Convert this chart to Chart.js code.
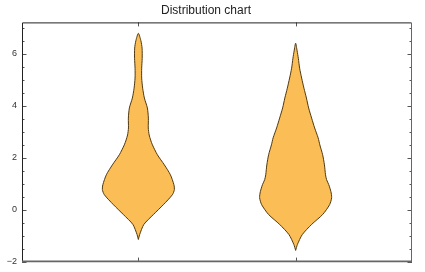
<!DOCTYPE html>
<html>
<head>
<meta charset="utf-8">
<script src="https://cdn.jsdelivr.net/npm/chart.js@4.4.1/dist/chart.umd.min.js"></script>
<style>
  html, body { margin: 0; padding: 0; background: #fff; }
  #wrap { width: 425px; height: 272px; }
</style>
</head>
<body>
<div id="wrap"><canvas id="c" width="425" height="272"></canvas></div>
<script>
// ---- Data ----
const categories = [1, 2];            // violin positions on the x axis
// Violin 1: sample values (y) and relative density (0..1) at each level
const v1Levels  = [-1.15, -0.96, -0.57, -0.19, 0.19, 0.57, 0.77, 0.96, 1.34, 1.72, 2.11, 2.49, 2.68, 2.87, 3.14, 3.52, 3.91, 4.29, 4.67, 5.06, 5.44, 5.82, 6.21, 6.50, 6.78];
const v1Density = [0, 0.036, 0.153, 0.417, 0.694, 0.944, 1.0, 0.986, 0.889, 0.722, 0.528, 0.39, 0.34, 0.30, 0.275, 0.278, 0.25, 0.167, 0.119, 0.092, 0.092, 0.106, 0.103, 0.069, 0];
// Violin 2
const v2Levels  = [-1.57, -1.34, -0.96, -0.57, -0.19, 0.19, 0.46, 0.69, 0.96, 1.15, 1.34, 1.72, 2.11, 2.49, 2.76, 3.14, 3.52, 3.91, 4.29, 4.67, 5.06, 5.44, 5.82, 6.10, 6.40];
const v2Density = [0, 0.05, 0.186, 0.444, 0.75, 0.944, 1.0, 0.98, 0.92, 0.86, 0.83, 0.8, 0.75, 0.672, 0.625, 0.528, 0.444, 0.361, 0.3, 0.231, 0.167, 0.111, 0.075, 0.042, 0];
const yTickValues = [-2, 0, 2, 4, 6];
const yMinorStep = 0.5;

const MAX_HALF_WIDTH = 0.229; // in x-axis units

function violinOutline(center, levels, density) {
  const pts = [];
  for (let i = 0; i < levels.length; i++) pts.push({x: center + density[i] * MAX_HALF_WIDTH, y: levels[i]});
  for (let i = levels.length - 2; i >= 0; i--) pts.push({x: center - density[i] * MAX_HALF_WIDTH, y: levels[i]});
  return pts;
}

const fillColor = '#FBBD55';
const edgeColor = '#4f3810';

const frameTicks = {
  id: 'frameTicks',
  afterDatasetsDraw(chart) {
    const {ctx, chartArea: a, scales: {x, y}} = chart;
    ctx.save();
    ctx.strokeStyle = '#555';
    ctx.lineWidth = 1;
    for (let v = -2; v <= y.max + 1e-9; v += yMinorStep) {
      const py = Math.round(y.getPixelForValue(v)) + 0.5;
      const major = yTickValues.includes(Math.round(v * 100) / 100);
      const len = major ? 4.5 : 2.5;
      ctx.beginPath();
      ctx.moveTo(a.left, py); ctx.lineTo(a.left + len, py);
      ctx.moveTo(a.right, py); ctx.lineTo(a.right - len, py);
      ctx.stroke();
    }
    for (const c of categories) {
      const px = Math.round(x.getPixelForValue(c)) + 0.5;
      ctx.beginPath();
      ctx.moveTo(px, a.bottom); ctx.lineTo(px, a.bottom - 4);
      ctx.moveTo(px, a.top); ctx.lineTo(px, a.top + 4);
      ctx.stroke();
    }
    ctx.strokeStyle = '#222';
    ctx.lineWidth = 1;
    ctx.beginPath();
    ctx.moveTo(a.left + 0.5, a.bottom);
    ctx.lineTo(a.left + 0.5, a.top + 0.5);
    ctx.lineTo(a.right - 0.5, a.top + 0.5);
    ctx.stroke();
    ctx.strokeStyle = '#666';
    ctx.beginPath();
    ctx.moveTo(a.right - 0.5, a.top + 0.5);
    ctx.lineTo(a.right - 0.5, a.bottom);
    ctx.stroke();
    ctx.lineWidth = 1.6;
    ctx.beginPath();
    ctx.moveTo(a.left, a.bottom - 0.2);
    ctx.lineTo(a.right, a.bottom - 0.2);
    ctx.stroke();
    ctx.restore();
  }
};

new Chart(document.getElementById('c'), {
  type: 'line',
  data: {
    datasets: [
      {data: violinOutline(categories[0], v1Levels, v1Density)},
      {data: violinOutline(categories[1], v2Levels, v2Density)}
    ].map(d => Object.assign(d, {
      fill: 'shape',
      backgroundColor: fillColor,
      borderColor: edgeColor,
      borderWidth: 1,
      pointRadius: 0,
      tension: 0.25
    }))
  },
  options: {
    responsive: false,
    animation: false,
    devicePixelRatio: 1,
    layout: {padding: {left: 0, right: 13, top: 0, bottom: 0}},
    plugins: {
      legend: {display: false},
      tooltip: {enabled: false},
      title: {
        display: true,
        text: 'Distribution chart',
        color: '#222',
        font: {family: 'Liberation Sans, Arial, sans-serif', size: 12, weight: 'normal'},
        padding: {top: 3, bottom: 5}
      }
    },
    scales: {
      x: {
        type: 'linear',
        min: 0.26, max: 2.74,
        afterBuildTicks: s => { s.ticks = categories.map(v => ({value: v})); },
        ticks: {display: false},
        grid: {display: false},
        border: {display: false},
        afterFit: s => { s.height = 10; }
      },
      y: {
        type: 'linear',
        min: -2, max: 7.2,
        afterBuildTicks: s => { s.ticks = yTickValues.map(v => ({value: v})); },
        ticks: {
          color: '#333',
          padding: 5,
          font: {family: 'Liberation Sans, Arial, sans-serif', size: 9},
          callback: v => (v < 0 ? '\u2212' + Math.abs(v) : String(v))
        },
        grid: {display: false, drawTicks: false},
        border: {display: false},
        afterFit: s => { s.width = 22; }
      }
    }
  },
  plugins: [frameTicks]
});
</script>
</body>
</html>
